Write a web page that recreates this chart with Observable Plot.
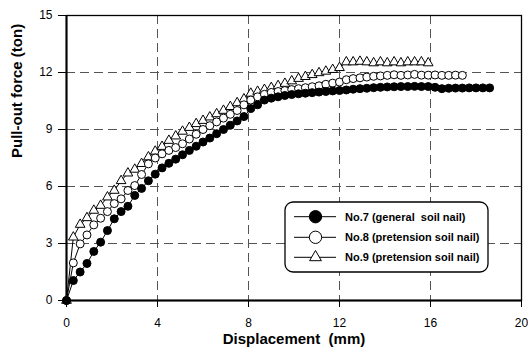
<!DOCTYPE html>
<html><head><meta charset="utf-8">
<script src="https://cdn.jsdelivr.net/npm/d3@7"></script>
<script src="https://cdn.jsdelivr.net/npm/@observablehq/plot@0.6"></script>
<style>
body{margin:0;background:#fff}
svg text{white-space:pre}
</style>
</head><body><div id="chart"></div>
<script>
// Displacement (mm) at each reading
const displacement = [0,0.3,0.6,0.9,1.2,1.5,1.8,2.1,2.4,2.7,3.0,3.3,3.6,3.9,4.2,4.5,4.8,5.1,5.4,5.7,6.0,6.3,6.6,6.9,7.2,7.5,7.8,8.1,8.4,8.7,9.0,9.3,9.6,9.9,10.2,10.5,10.8,11.1,11.4,11.7,12.0,12.3,12.6,12.9,13.2,13.5,13.8,14.1,14.4,14.7,15.0,15.3,15.6,15.9,16.2,16.5,16.8,17.1,17.4,17.7,18.0,18.3,18.6];
// Pull-out force (ton)
const force7 = [0,1.05,1.5,1.95,2.58,3.07,3.68,4.3,4.68,4.96,5.53,5.9,6.3,6.65,6.98,7.22,7.44,7.67,7.9,8.12,8.34,8.55,8.78,9.0,9.22,9.45,9.68,10.1,10.3,10.55,10.65,10.72,10.79,10.84,10.88,10.91,10.94,10.97,11.0,11.03,11.05,11.08,11.12,11.15,11.17,11.2,11.22,11.24,11.25,11.26,11.26,11.27,11.26,11.26,11.22,11.15,11.17,11.18,11.18,11.19,11.19,11.19,11.19];
const force8 = [0,1.98,2.98,3.45,3.98,4.33,4.68,5.1,5.35,5.79,6.05,6.63,7.19,7.5,7.72,7.9,8.05,8.25,8.5,8.75,9.0,9.2,9.4,9.6,9.8,10.0,10.3,10.55,10.72,10.85,10.95,11.0,11.05,11.1,11.15,11.2,11.25,11.3,11.38,11.44,11.5,11.62,11.68,11.72,11.76,11.8,11.82,11.85,11.88,11.85,11.87,11.9,11.86,11.86,11.87,11.85,11.85,11.86,11.85];
const force9 = [0,3.33,4.0,4.35,4.74,5.0,5.44,5.79,6.3,6.7,6.9,7.2,7.55,7.85,8.1,8.42,8.65,8.9,9.1,9.3,9.47,9.65,9.82,10.0,10.2,10.4,10.6,10.9,11.0,11.1,11.2,11.3,11.42,11.55,11.68,11.78,11.88,11.98,12.06,12.15,12.25,12.55,12.55,12.58,12.55,12.5,12.55,12.5,12.55,12.5,12.55,12.55,12.55,12.5];
const seriesNames = ["No.7 (general  soil nail)", "No.8 (pretension soil nail)", "No.9 (pretension soil nail)"];
const xTicks = [0,4,8,12,16,20];
const yTicks = [0,3,6,9,12,15];
const xGrid = [4,8,12,16];
const yGrid = [3,6,9,12];
const xLabel = "Displacement  (mm)";
const yLabel = "Pull-out force (ton)";

const toRows = (f, s) => f.map((y, i) => ({x: displacement[i], y, s}));
const d7 = toRows(force7, seriesNames[0]);
const d8 = toRows(force8, seriesNames[1]);
const d9 = toRows(force9, seriesNames[2]);

const font = "'Liberation Sans', Arial, Helvetica, sans-serif";
const plot = Plot.plot({
  width: 528, height: 349,
  marginTop: 15, marginRight: 7, marginBottom: 49, marginLeft: 66,
  style: {fontFamily: font, fontSize: "12px", background: "#fff", color: "#000"},
  x: {domain: [0, 20], ticks: xTicks, tickSize: 7, tickPadding: 11, label: null},
  y: {domain: [0, 15], ticks: yTicks, tickSize: 8, tickPadding: 6, label: null},
  marks: [
    Plot.ruleX(xGrid, {stroke: "#555", strokeDasharray: "9,5", strokeWidth: 1}),
    Plot.ruleY(yGrid, {stroke: "#555", strokeDasharray: "9,5", strokeWidth: 1}),
    Plot.frame({stroke: "#000", strokeWidth: 1.3}),
    Plot.ruleX([0], {stroke: "#000", strokeWidth: 2}),
    Plot.ruleY([0], {stroke: "#000", strokeWidth: 2}),
    Plot.line(d7, {x: "x", y: "y", stroke: "#000", strokeWidth: 1}),
    Plot.line(d8, {x: "x", y: "y", stroke: "#000", strokeWidth: 1}),
    Plot.line(d9, {x: "x", y: "y", stroke: "#000", strokeWidth: 1}),
    Plot.dot(d9, {x: "x", y: "y", r: 3.6, symbol: "triangle", fill: "#fff", stroke: "#000", strokeWidth: 1}),
    Plot.dot(d8, {x: "x", y: "y", r: 4, fill: "#fff", stroke: "#000", strokeWidth: 1}),
    Plot.dot(d7, {x: "x", y: "y", r: 4, fill: "#000", stroke: "#000", strokeWidth: 1}),
    Plot.text([xLabel], {text: d => d, frameAnchor: "bottom", dy: 43, lineAnchor: "bottom", fontWeight: "bold", fontSize: 15}),
    Plot.text([yLabel], {text: d => d, frameAnchor: "left", dx: -49, rotate: -90, fontWeight: "bold", fontSize: 15})
  ]
});
document.getElementById("chart").appendChild(plot);

// Legend
const svg = d3.select(plot);
const lg = svg.append("g");
lg.append("rect").attr("x", 285).attr("y", 202).attr("width", 203).attr("height", 70)
  .attr("rx", 8).attr("fill", "#fff").attr("stroke", "#000").attr("stroke-width", 1.3);
const rowY = [216.7, 237.3, 257.3];
const symbols = [d3.symbolCircle, d3.symbolCircle, d3.symbolTriangle];
const fills = ["#000", "#fff", "#fff"];
seriesNames.forEach((name, i) => {
  const g = lg.append("g").attr("transform", `translate(0,${rowY[i]})`);
  g.append("line").attr("x1", 294).attr("x2", 336).attr("stroke", "#000").attr("stroke-width", 1);
  g.append("path").attr("d", d3.symbol(symbols[i], i === 2 ? 60 : 120)())
    .attr("transform", "translate(315.5,0)").attr("fill", fills[i]).attr("stroke", "#000").attr("stroke-width", 1);
  g.append("text").attr("x", 345).attr("y", 4).attr("text-anchor", "start")
    .attr("font-family", font).attr("font-weight", "bold")
    .attr("font-size", 11).attr("fill", "#000").text(name);
});
// keep the double spaces of the original labels
svg.selectAll("text").attr("xml:space", "preserve").style("white-space", "pre");
</script>
</body></html>
